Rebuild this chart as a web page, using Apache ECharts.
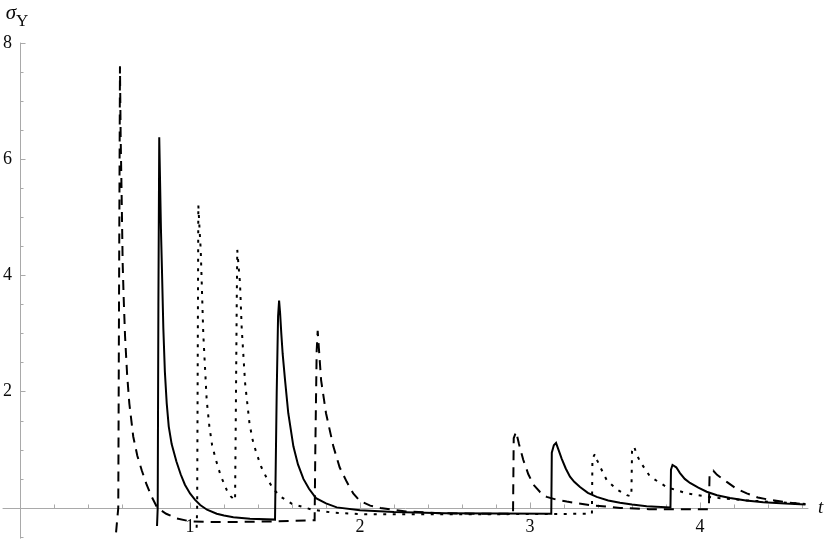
<!DOCTYPE html>
<html>
<head>
<meta charset="utf-8">
<script src="https://cdn.jsdelivr.net/npm/echarts@6/dist/echarts.min.js"></script>
<style>
html,body{margin:0;padding:0;background:#ffffff;}
#chart{width:830px;height:545px;}
</style>
</head>
<body>
<div id="chart"></div>
<script>
// ---- data: [t, sigma] ----
const solidCurve = [
  [0.806,-0.31],[0.81,0],[0.814,3.5],[0.819,6.38],
  [0.824,5.6],[0.829,4.8],[0.835,4.1],[0.843,3.1],[0.852,2.35],[0.863,1.8],[0.875,1.4],[0.892,1.1],
  [0.92,0.8],[0.945,0.58],[0.97,0.4],[1.0,0.25],[1.03,0.14],[1.06,0.05],[1.1,-0.03],[1.157,-0.1],
  [1.2,-0.13],[1.255,-0.16],[1.353,-0.185],[1.5,-0.2],
  [1.502,-0.2],[1.51,2.0],[1.518,3.3],[1.524,3.57],[1.53,3.35],[1.537,3.0],[1.545,2.65],[1.559,2.2],
  [1.578,1.63],[1.608,1.06],[1.635,0.75],[1.667,0.5],[1.7,0.33],[1.741,0.17],[1.8,0.08],[1.863,0.01],
  [2.0,-0.04],[2.2,-0.07],[2.5,-0.09],[3.125,-0.1],
  [3.128,0.95],[3.14,1.08],[3.153,1.12],[3.165,1.02],[3.186,0.85],[3.21,0.68],[3.235,0.54],[3.26,0.45],
  [3.294,0.36],[3.34,0.26],[3.392,0.19],[3.46,0.13],[3.529,0.09],[3.6,0.06],[3.686,0.03],[3.826,0.01],
  [3.829,0.66],[3.838,0.74],[3.847,0.76],[3.86,0.7],[3.882,0.6],[3.91,0.5],[3.941,0.43],[3.99,0.35],
  [4.039,0.28],[4.1,0.22],[4.176,0.17],[4.27,0.13],[4.372,0.1],[4.5,0.075],[4.62,0.06]
];
const dashedCurve = [
  [0.565,-0.42],[0.578,0],[0.583,4.0],[0.588,7.6],
  [0.592,6.4],[0.598,5.35],[0.604,4.2],[0.61,3.6],[0.618,2.95],[0.63,2.3],[0.643,1.8],[0.666,1.23],
  [0.69,0.9],[0.716,0.65],[0.745,0.4],[0.775,0.19],[0.808,0.0],[0.86,-0.1],[0.922,-0.18],[1.0,-0.23],
  [1.1,-0.24],[1.3,-0.24],[1.5,-0.23],[1.733,-0.21],
  [1.737,1.0],[1.745,2.7],[1.751,3.05],[1.758,2.75],[1.771,2.2],[1.8,1.63],[1.843,1.06],[1.88,0.7],
  [1.922,0.45],[1.96,0.25],[2.0,0.12],[2.06,0.04],[2.12,0.0],[2.27,-0.06],[2.47,-0.09],[2.7,-0.1],[2.9,-0.1],
  [2.904,1.2],[2.918,1.31],[2.935,1.1],[2.96,0.83],[2.99,0.58],[3.02,0.4],[3.06,0.27],
  [3.098,0.19],[3.16,0.14],[3.216,0.11],[3.353,0.05],[3.53,0.0],[3.7,-0.02],[4.052,-0.02],
  [4.056,0.58],[4.078,0.64],[4.1,0.57],[4.157,0.45],[4.21,0.34],[4.275,0.25],[4.34,0.18],[4.41,0.14],
  [4.5,0.1],[4.62,0.06]
];
const dottedCurve = [
  [1.039,-0.34],[1.042,0],[1.046,3.0],[1.049,5.21],
  [1.056,4.8],[1.063,4.44],[1.069,3.87],[1.078,3.0],[1.088,2.43],[1.098,1.86],[1.114,1.4],[1.13,1.08],
  [1.15,0.85],[1.18,0.56],[1.216,0.31],[1.24,0.2],[1.265,0.13],
  [1.27,1.8],[1.275,3.6],[1.278,4.44],[1.286,4.15],[1.294,3.87],[1.304,3.1],[1.324,2.15],[1.35,1.45],
  [1.37,1.15],[1.39,0.95],[1.42,0.7],[1.45,0.52],[1.49,0.33],[1.53,0.2],[1.6,0.07],[1.72,-0.03],
  [1.84,-0.08],[2.04,-0.11],[2.5,-0.11],[3.364,-0.1],
  [3.367,0.85],[3.382,0.93],[3.395,0.82],[3.412,0.71],[3.451,0.48],[3.51,0.32],[3.569,0.22],[3.596,0.2],
  [3.6,0.98],[3.612,1.06],[3.625,0.94],[3.647,0.8],[3.706,0.54],[3.804,0.36],[3.922,0.25],[4.078,0.18],
  [4.275,0.13],[4.62,0.07]
];
const xMajorTicks = [1, 2, 3, 4];
const xMinorTicks = [0.2,0.4,0.6,0.8,1.2,1.4,1.6,1.8,2.2,2.4,2.6,2.8,3.2,3.4,3.6,3.8,4.2,4.4,4.6];
const yMajorTicks = [2, 4, 6, 8];
const yMinorTicks = [-0.5,0.5,1,1.5,2.5,3,3.5,4.5,5,5.5,6.5,7,7.5];

// ---- chart ----
const X_MIN = -0.1, X_MAX = 4.635, X_STEP = 0.1;
const Y_MIN = -0.52, Y_MAX = 8, Y_STEP = 0.04;
const axisColor = '#a9a9a9';
const textColor = '#0a0a0a';
const serif = "'Liberation Serif', 'DejaVu Serif', serif";

function labelIn(list) {
  return function (value) {
    for (const v of list) {
      if (Math.abs(value - v) < 1e-6) return String(v);
    }
    return '';
  };
}

const chart = echarts.init(document.getElementById('chart'), null, {renderer: 'canvas'});

const labelStyle = {color: textColor, fontFamily: serif, fontSize: 18};

const option = {
  animation: false,
  backgroundColor: '#ffffff',
  grid: {left: 3, right: 22, top: 43, bottom: 6.8, containLabel: false},
  xAxis: [
    {
      type: 'value', min: X_MIN, max: X_MAX,
      splitLine: {show: false},
      axisLine: {show: true, onZero: true, onZeroAxisIndex: 0, lineStyle: {color: axisColor, width: 1}},
      axisTick: {show: true, inside: true, length: 5.5, customValues: xMajorTicks, lineStyle: {color: axisColor, width: 1}},
      axisLabel: {show: false},
      name: 't', nameLocation: 'end', nameGap: 10,
      nameTextStyle: {fontFamily: serif, fontStyle: 'italic', fontSize: 19, color: textColor}
    },
    {
      type: 'value', min: X_MIN, max: X_MAX, position: 'bottom',
      splitLine: {show: false},
      axisLine: {show: false, onZero: true, onZeroAxisIndex: 0},
      axisTick: {show: true, inside: true, length: 3.5, customValues: xMinorTicks, lineStyle: {color: axisColor, width: 1}},
      axisLabel: {show: false}
    },
    {
      type: 'value', min: X_MIN, max: X_MAX, interval: X_STEP, position: 'bottom',
      splitLine: {show: false},
      axisLine: {show: false, onZero: false},
      axisTick: {show: false},
      axisLabel: Object.assign({show: true, inside: true, margin: 2, formatter: labelIn(xMajorTicks)}, labelStyle)
    }
  ],
  yAxis: [
    {
      type: 'value', min: Y_MIN, max: Y_MAX,
      splitLine: {show: false},
      axisLine: {show: true, onZero: true, onZeroAxisIndex: 0, lineStyle: {color: axisColor, width: 1}},
      axisTick: {show: true, inside: true, length: 5.5, customValues: yMajorTicks, lineStyle: {color: axisColor, width: 1}},
      axisLabel: {show: false},
      name: '{s|σ}{u|Υ}', nameLocation: 'end', nameGap: 13,
      nameTextStyle: {
        padding: [0, 6, 0, 0],
        rich: {
          s: {fontFamily: serif, fontStyle: 'italic', fontSize: 21, lineHeight: 20, verticalAlign: 'top', color: textColor},
          u: {fontFamily: serif, fontSize: 17, lineHeight: 27, verticalAlign: 'bottom', color: textColor}
        }
      }
    },
    {
      type: 'value', min: Y_MIN, max: Y_MAX, position: 'left',
      splitLine: {show: false},
      axisLine: {show: false, onZero: true, onZeroAxisIndex: 0},
      axisTick: {show: true, inside: true, length: 3.5, customValues: yMinorTicks, lineStyle: {color: axisColor, width: 1}},
      axisLabel: {show: false}
    },
    {
      type: 'value', min: Y_MIN, max: Y_MAX, interval: Y_STEP, position: 'left',
      splitLine: {show: false},
      axisLine: {show: false, onZero: false},
      axisTick: {show: false},
      axisLabel: Object.assign({show: true, inside: true, margin: 0, formatter: labelIn(yMajorTicks)}, labelStyle)
    }
  ],
  series: [
    {
      name: 'solid', type: 'line', xAxisIndex: 0, yAxisIndex: 0, data: solidCurve,
      symbol: 'none', showSymbol: false, smooth: false,
      lineStyle: {color: '#000000', width: 2, type: 'solid', join: 'miter', miterLimit: 4}
    },
    {
      name: 'dashed', type: 'line', xAxisIndex: 0, yAxisIndex: 0, data: dashedCurve,
      symbol: 'none', showSymbol: false, smooth: false,
      lineStyle: {color: '#000000', width: 2, type: [10, 7], join: 'miter', miterLimit: 4}
    },
    {
      name: 'dotted', type: 'line', xAxisIndex: 0, yAxisIndex: 0, data: dottedCurve,
      symbol: 'none', showSymbol: false, smooth: false,
      lineStyle: {color: '#000000', width: 2, type: [3, 6.5], join: 'miter', miterLimit: 4}
    }
  ]
};
chart.setOption(option);
</script>
</body>
</html>
